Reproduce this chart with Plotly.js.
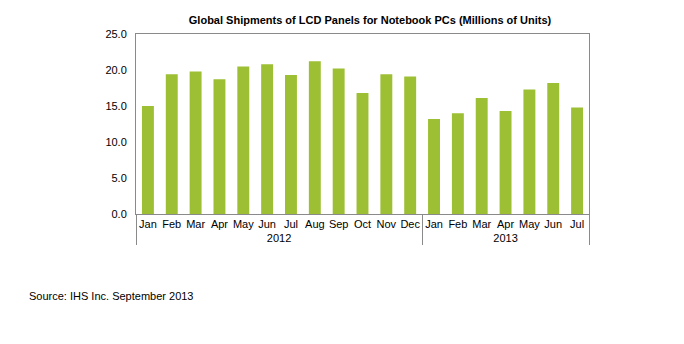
<!DOCTYPE html>
<html>
<head>
<meta charset="utf-8">
<script src="https://cdn.plot.ly/plotly-3.0.1.min.js"></script>
<style>html,body{margin:0;padding:0;background:#fff;}#chart{width:684px;height:344px;}</style>
</head>
<body>
<div id="chart"></div>
<script>
const years = ["2012","2012","2012","2012","2012","2012","2012","2012","2012","2012","2012","2012","2013","2013","2013","2013","2013","2013","2013"];
const months = ["Jan","Feb","Mar","Apr","May","Jun","Jul","Aug","Sep","Oct","Nov","Dec","Jan","Feb","Mar","Apr","May","Jun","Jul"];
const shipments = [15.0,19.4,19.8,18.7,20.5,20.8,19.3,21.2,20.2,16.8,19.4,19.1,13.2,14.0,16.1,14.3,17.3,18.2,14.8];
const yTicks = [0,5,10,15,20,25];

const font = {family: "Liberation Sans, Arial, sans-serif", size: 11, color: "#000"};

Plotly.newPlot("chart", [{
  type: "bar",
  x: [years, months],
  y: shipments,
  marker: {color: "#9cbf33"},
  width: 0.5,
  hoverinfo: "none"
}], {
  width: 684, height: 344,
  margin: {l: 136, r: 95, t: 34, b: 130},
  paper_bgcolor: "#fff", plot_bgcolor: "#fff",
  font: font,
  showlegend: false,
  title: {
    text: "<b>Global Shipments of LCD Panels for Notebook PCs (Millions of Units)</b>",
    font: {family: "Liberation Sans, Arial, sans-serif", size: 11, color: "#000"},
    x: (370 - 136) / 453, xref: "paper", xanchor: "center",
    y: 1 - 20/344, yref: "container", yanchor: "middle"
  },
  xaxis: {
    type: "multicategory",
    tickangle: 0,
    showline: true, linecolor: "#8a8a8a", linewidth: 1, mirror: true,
    showgrid: false, ticks: "outside", ticklen: 4, tickcolor: "rgba(0,0,0,0)",
    showdividers: true, dividercolor: "#8a8a8a", dividerwidth: 1,
    tickfont: font
  },
  yaxis: {
    range: [0, 25], tickvals: yTicks, tickformat: ".1f",
    showline: true, linecolor: "#8a8a8a", linewidth: 1, mirror: true,
    showgrid: false, zeroline: false, ticks: "",
    ticklabelstandoff: 6,
    tickfont: font
  },
  annotations: [{
    text: "Source: IHS Inc. September 2013",
    xref: "paper", yref: "paper",
    x: (27 - 136) / 453, y: (214 - 296) / 180,
    xanchor: "left", yanchor: "middle", showarrow: false,
    font: font
  }]
}, {staticPlot: true});
</script>
</body>
</html>
